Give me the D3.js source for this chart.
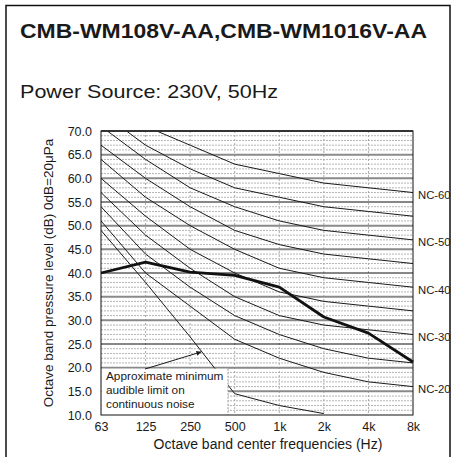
<!DOCTYPE html>
<html>
<head>
<meta charset="utf-8">
<script src="https://cdn.jsdelivr.net/npm/d3@7"></script>
<style>
  body { margin: 0; background: #fff; }
  svg { display: block; font-family: "Liberation Sans", Arial, sans-serif; }
</style>
</head>
<body>
<script>

// octave band centre frequencies
var freqLabels = ["63", "125", "250", "500", "1k", "2k", "4k", "8k"];
var yTicks = [10, 15, 20, 25, 30, 35, 40, 45, 50, 55, 60, 65, 70];

// NC curves, 63Hz .. 8kHz
var nc20 = [51, 40, 33, 26, 22, 19, 17, 16];
var nc25 = [54, 44, 37, 31, 27, 24, 22, 21];
var nc30 = [57, 48, 41, 35, 31, 29, 28, 27];
var nc35 = [60, 52, 45, 40, 36, 34, 33, 32];
var nc40 = [64, 56, 50, 45, 41, 39, 38, 37];
var nc45 = [67, 60, 54, 49, 46, 44, 43, 42];
var nc50 = [71, 64, 58, 54, 51, 49, 48, 47];
var nc55 = [74, 67, 62, 58, 56, 54, 53, 52];
var nc60 = [77, 71, 67, 63, 61, 59, 58, 57];
var ncCurves = [nc20, nc25, nc30, nc35, nc40, nc45, nc50, nc55, nc60];
var ncLabels = ["NC-20", "NC-30", "NC-40", "NC-50", "NC-60"];
var ncLabelValues = [16, 27, 37, 47, 57];

// approximate minimum audible limit (only drawn where defined)
var audibleLimit = [49, 38, 26.5, 14.5, 12, 10.3, null, null];

// measured sound pressure level
var measured = [40, 42.3, 40.2, 39.5, 37, 30.7, 27.3, 21.2];

var width = 456, height = 457;
var plotLeft = 101, plotRight = 413, plotTop = 131, plotBottom = 415;

var svg = d3.select("body").append("svg")
    .attr("width", width).attr("height", height);

// outer frame (open at the bottom)
svg.append("path")
    .attr("d", "M6,457 L6,5.5 L450,5.5 L450,457")
    .attr("fill", "none").attr("stroke", "#111").attr("stroke-width", 1.5);

svg.append("text")
    .attr("x", 20).attr("y", 38)
    .attr("font-size", 20).attr("font-weight", "bold").attr("fill", "#1a1a1a")
    .attr("textLength", 407).attr("lengthAdjust", "spacingAndGlyphs")
    .text("CMB-WM108V-AA,CMB-WM1016V-AA");

svg.append("text")
    .attr("x", 20).attr("y", 98)
    .attr("font-size", 19).attr("fill", "#1a1a1a")
    .attr("textLength", 258).attr("lengthAdjust", "spacingAndGlyphs")
    .text("Power Source: 230V, 50Hz");

//SCALES
var xScale = d3.scalePoint().domain(freqLabels).range([plotLeft, plotRight]);
var yScale = d3.scaleLinear().domain([10, 70]).range([plotBottom, plotTop]);

svg.append("clipPath").attr("id", "plotClip")
    .append("rect")
    .attr("x", plotLeft).attr("y", plotTop)
    .attr("width", plotRight - plotLeft).attr("height", plotBottom - plotTop);

var grid = svg.append("g");

// 1 dB dotted lines
grid.selectAll(".minor")
    .data(d3.range(11, 70).filter(function(d){return d % 5 !== 0;}))
    .enter().append("line")
    .attr("x1", plotLeft).attr("x2", plotRight)
    .attr("y1", function(d){return yScale(d);})
    .attr("y2", function(d){return yScale(d);})
    .attr("stroke", "#b4b4b4").attr("stroke-width", 1)
    .attr("stroke-dasharray", "2,1");

// vertical octave lines
grid.selectAll(".vline")
    .data(freqLabels.slice(1, -1))
    .enter().append("line")
    .attr("x1", function(d){return xScale(d);})
    .attr("x2", function(d){return xScale(d);})
    .attr("y1", plotTop).attr("y2", plotBottom)
    .attr("stroke", "#aaa").attr("stroke-width", 1)
    .attr("stroke-dasharray", "2,2");

// 5 dB lines: gray, every 15 dB black
grid.selectAll(".major")
    .data(yTicks.slice(1, -1))
    .enter().append("line")
    .attr("x1", plotLeft).attr("x2", plotRight)
    .attr("y1", function(d){return yScale(d);})
    .attr("y2", function(d){return yScale(d);})
    .attr("stroke", function(d){return (d % 15 === 10) ? "#111" : "#8a8a8a";})
    .attr("stroke-width", function(d){return (d % 15 === 10) ? 1.2 : 2;});

//CURVES
var line = d3.line()
    .defined(function(d){return d != null;})
    .x(function(d, i){return xScale(freqLabels[i]);})
    .y(function(d){return yScale(d);});

var curves = svg.append("g").attr("clip-path", "url(#plotClip)");

curves.selectAll(".nc")
    .data(ncCurves)
    .enter().append("path")
    .attr("d", function(d){return line(d);})
    .attr("fill", "none").attr("stroke", "#1a1a1a").attr("stroke-width", 1);

curves.append("path")
    .attr("d", line(audibleLimit))
    .attr("fill", "none").attr("stroke", "#1a1a1a").attr("stroke-width", 1);

// note box
var boxRight = 228;
svg.append("rect")
    .attr("x", plotLeft + 0.5).attr("y", yScale(20) + 1)
    .attr("width", boxRight - plotLeft - 0.5).attr("height", plotBottom - yScale(20) - 1)
    .attr("fill", "#fff");
svg.append("line")
    .attr("x1", boxRight).attr("x2", boxRight)
    .attr("y1", yScale(20) + 1).attr("y2", plotBottom)
    .attr("stroke", "#999").attr("stroke-dasharray", "2,1.5");

var note = ["Approximate minimum", "audible limit on", "continuous noise"];
svg.append("g").selectAll("text")
    .data(note)
    .enter().append("text")
    .attr("x", 106)
    .attr("y", function(d, i){return 380 + i * 14;})
    .attr("font-size", 11.8).attr("fill", "#1a1a1a")
    .text(function(d){return d;});

// arrow to the audible limit line
svg.append("defs").append("marker")
    .attr("id", "arrowHead")
    .attr("viewBox", "0 0 10 10").attr("refX", 9).attr("refY", 5)
    .attr("markerWidth", 7).attr("markerHeight", 5)
    .attr("orient", "auto")
    .append("path").attr("d", "M0,0 L10,5 L0,10 Z").attr("fill", "#1a1a1a");
svg.append("line")
    .attr("x1", 145).attr("y1", 369)
    .attr("x2", 201).attr("y2", 352)
    .attr("stroke", "#1a1a1a").attr("stroke-width", 1)
    .attr("marker-end", "url(#arrowHead)");

// measured curve
svg.append("path")
    .attr("d", line(measured))
    .attr("fill", "none").attr("stroke", "#111").attr("stroke-width", 2.8)
    .attr("stroke-linejoin", "round");

// plot frame
svg.append("rect")
    .attr("x", plotLeft).attr("y", plotTop)
    .attr("width", plotRight - plotLeft).attr("height", plotBottom - plotTop)
    .attr("fill", "none").attr("stroke", "#111").attr("stroke-width", 1);
svg.append("line")
    .attr("x1", plotLeft).attr("x2", plotRight).attr("y1", plotTop).attr("y2", plotTop)
    .attr("stroke", "#333").attr("stroke-width", 2.2);

//AXIS
var yAxis = d3.axisLeft(yScale).tickValues(yTicks)
    .tickFormat(d3.format(".1f")).tickSize(0).tickPadding(9);
var xAxis = d3.axisBottom(xScale).tickSize(0).tickPadding(7);

var yG = svg.append("g").attr("transform", "translate(" + plotLeft + ",0)").call(yAxis);
var xG = svg.append("g").attr("transform", "translate(0," + plotBottom + ")").call(xAxis);
[yG, xG].forEach(function(g){
    g.select(".domain").remove();
    g.selectAll("text")
        .attr("font-size", 12.5).attr("fill", "#1a1a1a")
        .attr("font-family", "Liberation Sans, Arial, sans-serif");
});

// NC labels
svg.append("g").selectAll("text")
    .data(ncLabels)
    .enter().append("text")
    .attr("x", 418)
    .attr("y", function(d, i){return yScale(ncLabelValues[i]) + 2.5;})
    .attr("dy", "0.35em")
    .attr("font-size", 11.3).attr("fill", "#1a1a1a")
    .text(function(d){return d;});

// axis titles
svg.append("text")
    .attr("transform", "translate(48,273) rotate(-90)")
    .attr("text-anchor", "middle").attr("dy", "0.35em")
    .attr("font-size", 13.5).attr("fill", "#1a1a1a")
    .text("Octave band pressure level (dB) 0dB=20\u03bcPa");

svg.append("text")
    .attr("x", 268).attr("y", 449)
    .attr("text-anchor", "middle")
    .attr("font-size", 14).attr("fill", "#1a1a1a")
    .text("Octave band center frequencies (Hz)");

</script>
</body>
</html>
